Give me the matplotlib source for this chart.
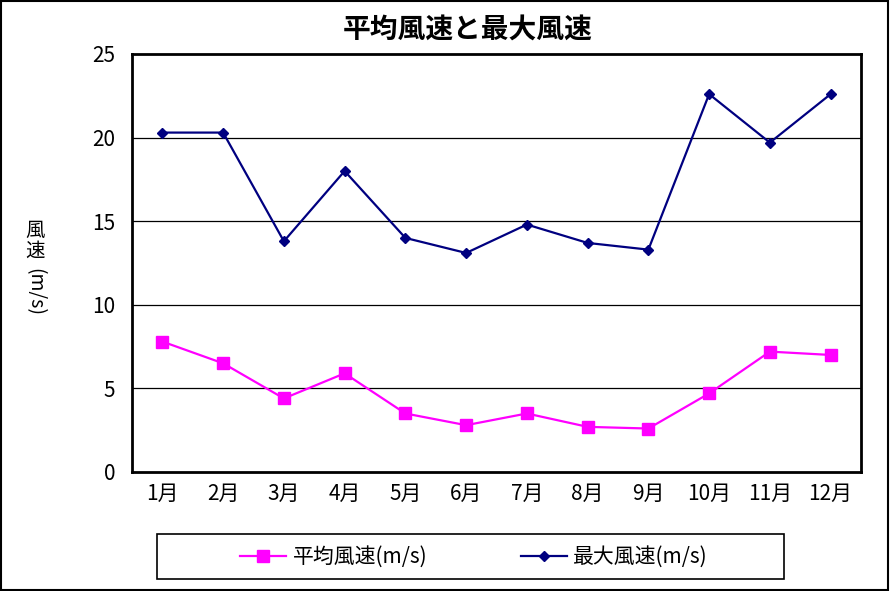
import matplotlib.pyplot as plt
from matplotlib.patches import Rectangle

plt.rcParams['font.family'] = ['Noto Sans CJK JP', 'DejaVu Sans']

# data
months = ['1月', '2月', '3月', '4月', '5月', '6月', '7月', '8月', '9月', '10月', '11月', '12月']
avg_wind = [7.8, 6.5, 4.4, 5.9, 3.5, 2.8, 3.5, 2.7, 2.6, 4.7, 7.2, 7.0]
max_wind = [20.3, 20.3, 13.8, 18.0, 14.0, 13.1, 14.8, 13.7, 13.3, 22.6, 19.7, 22.6]
yticks = [0, 5, 10, 15, 20, 25]

fig = plt.figure(figsize=(8.9, 5.91), dpi=100)
ax = fig.add_axes([132/890, 1-472/591, 729/890, 418/591])

x = range(len(months))
l1, = ax.plot(x, avg_wind, color='#FF00FF', lw=1.6, marker='s', ms=9,
              label='平均風速(m/s)')
l2, = ax.plot(x, max_wind, color='#000080', lw=1.6, marker='D', ms=5.5,
              label='最大風速(m/s)')

ax.set_xlim(-0.5, len(months) - 0.5)
ax.set_ylim(0, 25)
ax.set_yticks(yticks)
ax.set_xticks(list(x))
ax.set_xticklabels(months)
ax.tick_params(length=0, labelsize=15)
ax.tick_params(axis='y', pad=12)
ax.tick_params(axis='x', pad=8)
for t in yticks[1:-1]:
    ax.axhline(t, color='black', lw=0.9, zorder=0)
for s in ax.spines.values():
    s.set_linewidth(2)
    s.set_color('black')

fig.text(468/890, 1-30/591, '平均風速と最大風速', ha='center', va='center',
         fontsize=20, fontweight='bold')

# vertical japanese y label
fig.text(35/890, 1-230/591, '風', ha='center', va='center', fontsize=14)
fig.text(35/890, 1-251/591, '速', ha='center', va='center', fontsize=14)
fig.text(35/890, 1-292/591, '(m/s)', ha='center', va='center', fontsize=14,
         rotation=-90)

# legend box
fig.patches.append(Rectangle((157/890, 1-579/591), 627/890, 45/591,
                             transform=fig.transFigure, fill=False,
                             edgecolor='black', lw=1.2))
fig.legend(handles=[l1, l2], loc='center',
           bbox_to_anchor=(474/890, 1-557/591), ncol=2, frameon=False,
           fontsize=15, columnspacing=4.5, handlelength=2.2, handletextpad=0.3)

# outer border
fig.patches.append(Rectangle((0.001, 0.002), 0.997, 0.996,
                             transform=fig.transFigure, fill=False,
                             edgecolor='black', lw=1.5))

fig.savefig('out.png', dpi=100)
